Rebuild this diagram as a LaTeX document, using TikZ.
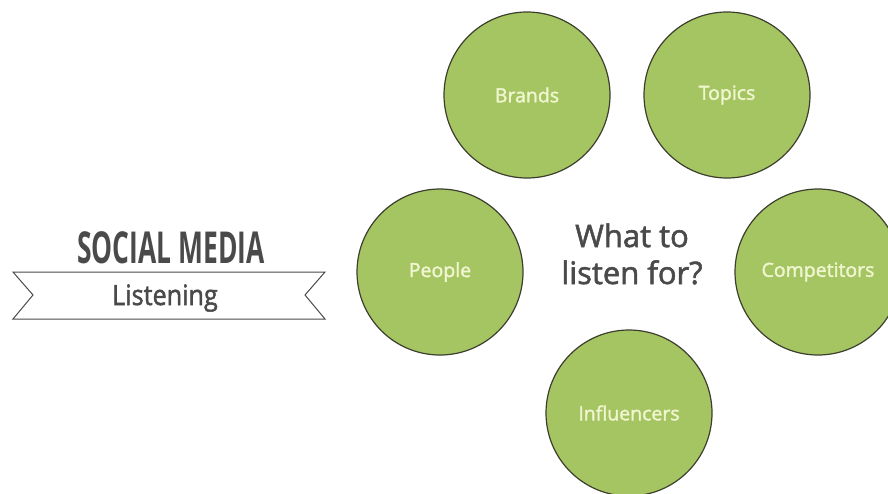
\documentclass[tikz,border=0pt]{standalone}
\usepackage{fontspec}
\setmainfont{Open Sans}
\newfontfamily\midfont{Open Sans}[FakeBold=1.8]
\usepackage{graphicx}
\definecolor{leaf}{HTML}{A5C462}
\definecolor{leafline}{HTML}{3C3F2E}
\definecolor{leaftext}{HTML}{F0F6CF}
\definecolor{ink}{HTML}{4A4A4A}
\tikzset{
  bubble/.style={circle, draw=leafline, line width=1.2pt, fill=leaf,
    minimum size=166pt, inner sep=0pt, text=leaftext,
    font=\midfont\fontsize{19.5}{22}\selectfont},
  inktext/.style={text=ink, inner sep=0pt, anchor=base}
}
\begin{document}
\begin{tikzpicture}[x=1pt,y=-1pt]
  \useasboundingbox (0,0) rectangle (888,493);
  \clip (0,0) rectangle (888,493);
  % banner on the left
  \draw[ink, line width=1pt] (13,272) -- (325,272) -- (305,295) -- (325,319)
    -- (13,319) -- (33,295) -- cycle;
  \node[inktext, font=\fontsize{44}{46}\selectfont\bfseries] (title) at (171,263)
    {\scalebox{0.6}[1]{SOCIAL MEDIA}};
  \node[inktext, font=\midfont\fontsize{28}{30}\selectfont] (sub) at (165,305)
    {\scalebox{0.9}[1]{Listening}};
  % the five circles
  \node[bubble] (brands) at (527,95) {Brands};
  \node[bubble] (topics) at (727,95) {Topics};
  \node[bubble] (people) at (440,272) {People};
  \node[bubble] (competitors) at (818,272) {Competitors};
  \node[bubble] (influencers) at (629,413) {Influencers};
  % question in the middle
  \node[inktext, font=\midfont\fontsize{31}{36}\selectfont] (ask) at (632,247) {What to};
  \node[inktext, font=\midfont\fontsize{31}{36}\selectfont] (askb) at (632,284) {listen for?};
\end{tikzpicture}
\end{document}
